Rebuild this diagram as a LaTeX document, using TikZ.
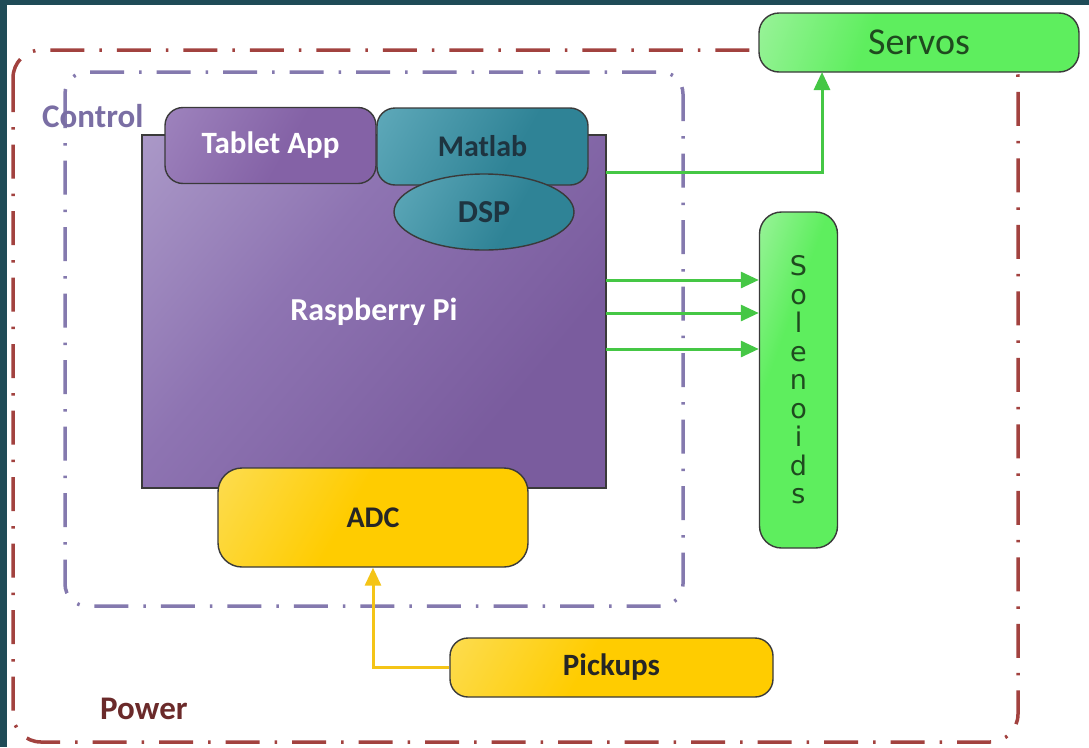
\documentclass[tikz,border=0pt]{standalone}
\usepackage{fontspec}
\setmainfont{Carlito}
\newfontfamily\solfont{DejaVu Sans}
\usetikzlibrary{arrows.meta,shapes.geometric}
\definecolor{bgdark}{HTML}{1F4B57}
\definecolor{powerc}{HTML}{A2423F}
\definecolor{powertext}{HTML}{6B2A2A}
\definecolor{ctrlc}{HTML}{8479AE}
\definecolor{ctrltext}{HTML}{7A6EA4}
\definecolor{rpiL}{HTML}{BBAED4}
\definecolor{rpiM}{HTML}{8E74B2}
\definecolor{rpiR}{HTML}{7A5C9E}
\definecolor{tabL}{HTML}{A890C6}
\definecolor{tabR}{HTML}{8462A6}
\definecolor{matL}{HTML}{6FB6C6}
\definecolor{matR}{HTML}{2F8396}
\definecolor{yelL}{HTML}{FBE57A}
\definecolor{yelR}{HTML}{FFCC00}
\definecolor{grnL}{HTML}{C8F7C8}
\definecolor{grnR}{HTML}{5EEE5E}
\definecolor{garrowc}{HTML}{45C745}
\definecolor{yarrowc}{HTML}{F4C417}
\definecolor{edgec}{HTML}{3A3A3A}
\definecolor{darktext}{HTML}{1E3440}
\definecolor{grntext}{HTML}{1F4A1F}
\pgfdeclarehorizontalshading{rpishade}{100bp}{color(0bp)=(rpiL); color(40bp)=(rpiM); color(70bp)=(rpiR); color(100bp)=(rpiR)}
\pgfdeclarehorizontalshading{tabshade}{100bp}{color(0bp)=(tabL); color(55bp)=(tabR); color(100bp)=(tabR)}
\pgfdeclarehorizontalshading{matshade}{100bp}{color(0bp)=(matL); color(60bp)=(matR); color(100bp)=(matR)}
\pgfdeclarehorizontalshading{yelshade}{100bp}{color(0bp)=(yelL); color(45bp)=(yelR); color(100bp)=(yelR)}
\pgfdeclarehorizontalshading{grnshade}{100bp}{color(0bp)=(grnL); color(40bp)=(grnR); color(100bp)=(grnR)}
\tikzset{
  dashdot/.style={line width=3.5pt, dash pattern=on 34pt off 15pt on 2.5pt off 15pt},
  powerbox/.style={dashdot, draw=powerc, rounded corners=28pt},
  ctrlbox/.style={dashdot, draw=ctrlc, rounded corners=22pt},
  blk/.style={draw=edgec, line width=1.4pt, inner sep=0pt},
  rpibox/.style={blk, rectangle, shading=rpishade, shading angle=-40, text=white, font=\bfseries\fontsize{32}{36}\selectfont},
  tabbox/.style={blk, rectangle, rounded corners=18pt, shading=tabshade, shading angle=-30, text=white, font=\bfseries\fontsize{31}{36}\selectfont},
  matbox/.style={blk, rectangle, rounded corners=18pt, shading=matshade, shading angle=-30, text=darktext, font=\bfseries\fontsize{30}{36}\selectfont},
  dspbox/.style={blk, ellipse, shading=matshade, shading angle=-30, text=darktext, font=\bfseries\fontsize{32}{36}\selectfont},
  yelbox/.style={blk, rectangle, rounded corners=24pt, shading=yelshade, shading angle=-30, text=black!85, font=\bfseries\fontsize{30}{36}\selectfont},
  grnbox/.style={blk, rectangle, rounded corners=22pt, shading=grnshade, shading angle=-20, text=grntext},
  garrow/.style={draw=garrowc, line width=3pt, -{Triangle[length=18pt,width=16pt]}},
  yarrow/.style={draw=yarrowc, line width=3pt, -{Triangle[length=18pt,width=16pt]}},
  lbl/.style={anchor=west, inner sep=0pt, font=\bfseries\fontsize{33}{36}\selectfont}
}
\begin{document}
\begin{tikzpicture}[x=1pt,y=-1pt]
\useasboundingbox (0,0) rectangle (1089,747);
\fill[bgdark] (0,0) rectangle (1089,747);
\fill[white] (7,5) rectangle (1089,747);
% Power and Control regions
\draw[powerbox] (13,50) rectangle (1018,742);
\draw[ctrlbox] (65,72) rectangle (683,606);
\node[lbl, text=ctrltext] (ctrllbl) at (42,116) {Control};
\node[lbl, text=powertext] (powerlbl) at (100,709) {Power};
% Raspberry Pi and its parts
\node[rpibox, minimum width=464pt, minimum height=353pt] (rpi) at (374,311.5) {\raisebox{3pt}{Raspberry Pi}};
\node[tabbox, minimum width=211pt, minimum height=76pt] (tab) at (270.5,145.5) {Tablet App};
\node[matbox, minimum width=211pt, minimum height=77pt] (mat) at (482.5,146.5) {Matlab};
\node[dspbox, minimum width=180pt, minimum height=76pt] (dsp) at (484,212) {DSP};
\node[yelbox, minimum width=310pt, minimum height=99pt] (adc) at (373,517.5) {ADC};
% Outputs and inputs
\node[grnbox, rounded corners=20pt, minimum width=320pt, minimum height=59pt, font=\fontsize{38}{40}\selectfont] (servo) at (919,42.5) {Servos};
\node[grnbox, minimum width=78pt, minimum height=336pt, align=center, font=\solfont\fontsize{27}{28.5}\selectfont] (sol) at (798.5,380) {S\\o\\l\\e\\n\\o\\i\\d\\s};
\node[yelbox, rounded corners=18pt, minimum width=323pt, minimum height=59pt, font=\bfseries\fontsize{31}{36}\selectfont] (pick) at (611.5,667.5) {Pickups};
% connectors
\coordinate (o0) at (606,172);
\coordinate (o1) at (606,280);
\coordinate (o2) at (606,313);
\coordinate (o3) at (606,349);
\coordinate (sv) at (822,72);
\draw[garrow] (o0) -| (sv);
\draw[garrow] (o1) -- (sol.west |- o1);
\draw[garrow] (o2) -- (sol.west |- o2);
\draw[garrow] (o3) -- (sol.west |- o3);
\draw[yarrow] (pick.west) -| (adc.south);
\end{tikzpicture}
\end{document}
